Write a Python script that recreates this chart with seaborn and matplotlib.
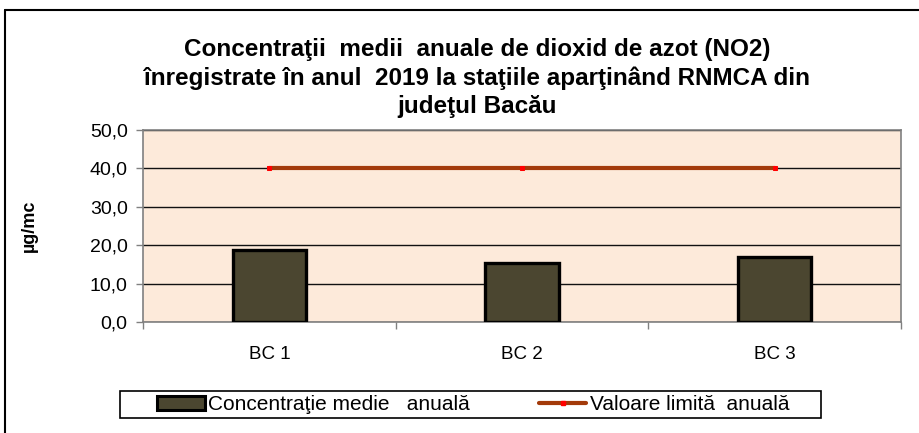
import matplotlib
matplotlib.use("Agg")
import matplotlib.pyplot as plt
import seaborn as sns
import pandas as pd
from matplotlib.patches import Patch, Rectangle
from matplotlib.lines import Line2D
from matplotlib.ticker import FuncFormatter, FixedLocator

categories = ["BC 1", "BC 2", "BC 3"]
concentratie = [18.7, 15.3, 17.0]
valoare_limita = [40.0, 40.0, 40.0]
y_ticks = [0, 10, 20, 30, 40, 50]

title = ("Concentraţii  medii  anuale de dioxid de azot (NO2)\n"
         "înregistrate în anul  2019 la staţiile aparţinând RNMCA din\n"
         "judeţul Bacău")
ylabel = "µg/mc"
legend_labels = ["Concentraţie medie   anuală", "Valoare limită  anuală"]

sns.set_theme(style="white")
plt.rcParams['font.family'] = ['Liberation Sans', 'DejaVu Sans']
plt.rcParams['text.color'] = 'black'
plt.rcParams['axes.labelcolor'] = 'black'
plt.rcParams['xtick.color'] = 'black'
plt.rcParams['ytick.color'] = 'black'

W, H = 919, 433
fig = plt.figure(figsize=(W / 100, H / 100), dpi=100)
ax = fig.add_axes([143 / W, (H - 322) / H, 758 / W, 192 / H])
ax.set_facecolor("#FDEADA")

df = pd.DataFrame({"station": categories, "val": concentratie})
sns.barplot(data=df, x="station", y="val", ax=ax, color="#4B4630",
            width=0.29, edgecolor="black", linewidth=2.4, saturation=1,
            zorder=3)

xpos = list(range(len(categories)))
sns.lineplot(x=xpos, y=valoare_limita, ax=ax, color="#A33A0A", linewidth=3.0,
             marker="s", markersize=3, markerfacecolor="red",
             markeredgecolor="red", zorder=4)

ax.set_ylim(0, 50)
ax.set_xlim(-0.5, len(categories) - 0.5)
ax.yaxis.set_major_locator(FixedLocator(y_ticks))
ax.yaxis.set_major_formatter(FuncFormatter(lambda v, p: f"{v:.1f}".replace(".", ",")))
ax.grid(axis="y", color="#111111", linewidth=1.0, zorder=1)
ax.set_axisbelow(True)
for s in ax.spines.values():
    s.set_color("#808080")
    s.set_linewidth(1.2)

ax.tick_params(axis="y", which="major", length=5, width=1, color="#808080",
               direction="out", left=True, labelsize=14, pad=6, labelcolor="black")
ax.tick_params(axis="x", which="major", length=0, labelsize=13.5, pad=17, labelcolor="black")
ax.xaxis.set_minor_locator(FixedLocator([-0.5, 0.5, 1.5, 2.5]))
ax.tick_params(axis="x", which="minor", length=5, width=1, color="#808080",
               direction="out", bottom=True)
ax.set_xlabel("")
ax.set_ylabel(ylabel, fontsize=13, fontweight="bold")
ax.yaxis.set_label_coords((38 - 143) / 758, 0.5)

fig.text(477 / W, 1 - 78 / H, title, ha="center", va="center",
         fontsize=17.5, fontweight="bold", linespacing=1.3)

# outer chart border
fig.add_artist(Line2D([5 / W, 5 / W], [0, 1 - 10 / H], transform=fig.transFigure,
                      color="black", linewidth=1.5))
fig.add_artist(Line2D([5 / W, 1], [1 - 10 / H, 1 - 10 / H], transform=fig.transFigure,
                      color="black", linewidth=1.5))

# legend box
fig.add_artist(Rectangle((120 / W, 15 / H), 701 / W, 27 / H, transform=fig.transFigure,
                         facecolor="white", edgecolor="black", linewidth=1.2))

handles = [Patch(facecolor="#4B4630", edgecolor="black", linewidth=2.2),
           Line2D([], [], color="#A33A0A", linewidth=3.0, marker="s",
                  markersize=3, markerfacecolor="red", markeredgecolor="red",
                  markevery=[1])]
leg = fig.legend(handles, legend_labels, ncol=2,
                 bbox_to_anchor=(157 / W, 1 - 405 / H),
                 loc="center left", fontsize=15, frameon=False,
                 borderpad=0, handlelength=2.3, handleheight=0.65,
                 handletextpad=0.15, columnspacing=3.3, borderaxespad=0)

fig.savefig("out.png", dpi=100, facecolor="white")
